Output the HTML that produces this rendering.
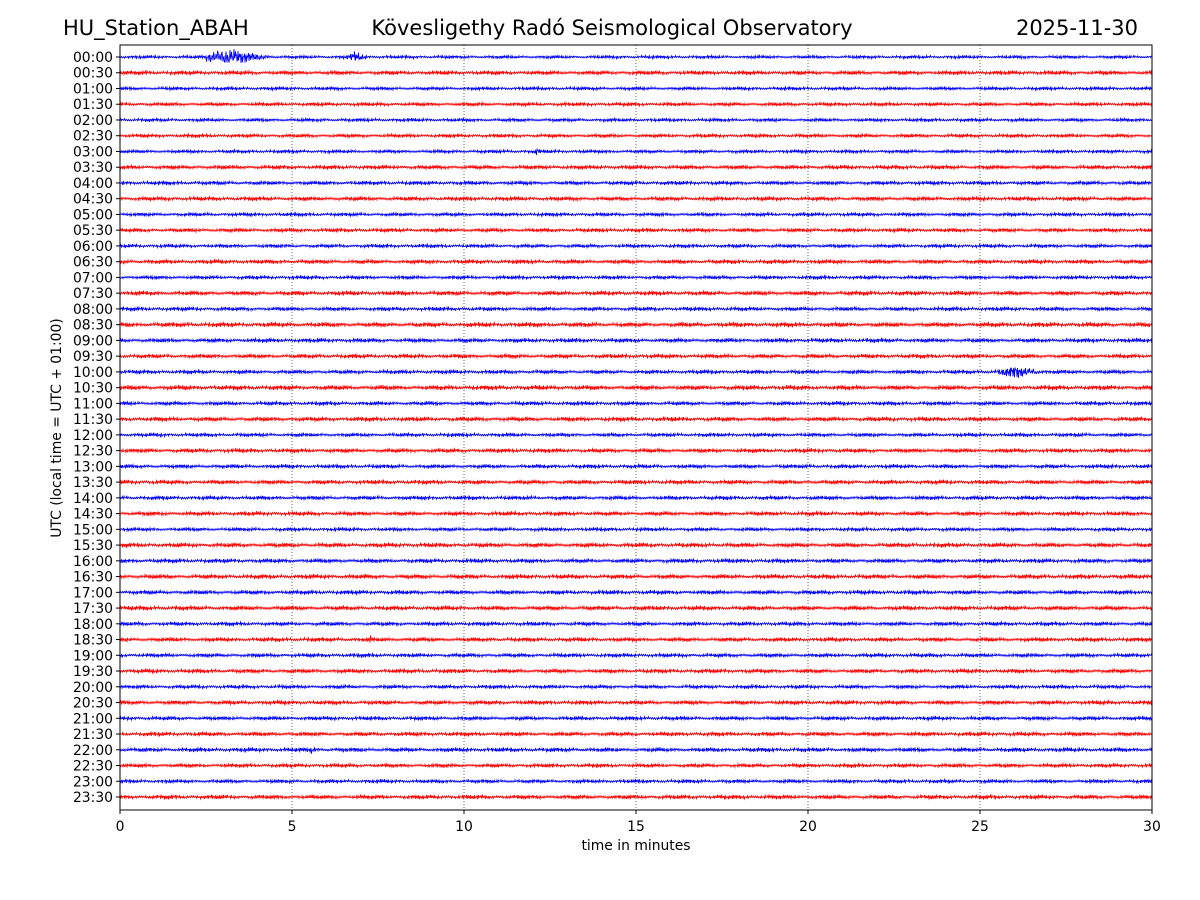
<!DOCTYPE html>
<html><head><meta charset="utf-8"><style>
body{margin:0;background:#fff;}
svg{display:block;font-family:"DejaVu Sans","Liberation Sans",sans-serif;}
</style></head><body>
<svg id="chart" width="1200" height="900" viewBox="0 0 1200 900">
<rect width="1200" height="900" fill="#fff"/>
<text x="63" y="35" font-size="21">HU_Station_ABAH</text>
<text x="612" y="35" font-size="21" text-anchor="middle">Kövesligethy Radó Seismological Observatory</text>
<text x="1138" y="35" font-size="21" text-anchor="end">2025-11-30</text>
<g id="grid"></g>
<g id="traces"></g>
<rect x="120" y="45" width="1032" height="765" fill="none" stroke="#000" stroke-width="1"/>
<g id="xticks"></g>
<g id="yticks"></g>
<text x="636" y="850" font-size="13.9" text-anchor="middle">time in minutes</text>
<text transform="translate(61,428) rotate(-90)" font-size="13.9" text-anchor="middle">UTC (local time = UTC + 01:00)</text>
</svg>
<script>
const rowLabels=[];for(let h=0;h<24;h++){const hh=String(h).padStart(2,'0');rowLabels.push(hh+':00');rowLabels.push(hh+':30');}
const xTicks=[0,5,10,15,20,25,30];
const noiseAmp=[1.2,1.6,1.3,1.4,1.3,1.4,1.3,1.6,1.5,1.6,1.4,1.5,1.4,1.6,1.4,1.7,1.5,1.8,1.6,1.6,1.5,1.8,1.5,1.7,1.4,1.6,1.5,1.6,1.5,1.6,1.4,1.7,1.6,1.7,1.6,1.7,1.5,1.6,1.5,1.6,1.4,1.6,1.5,1.6,1.6,1.5,1.4,1.6];
const eventRow=[0,0,6,20,44,37];
const eventMin=[2.5,6.6,12.0,25.5,5.4,7.2];
const eventAmp=[8,4,3,5,3,3];
const eventDur=[2.4,1.0,0.5,2.2,0.8,0.3];
const NS='http://www.w3.org/2000/svg';
const X0=120,X1=1152,Y0=45,Y1=810;
const xs=m=>X0+(m/30)*(X1-X0);
const ys=i=>57+i*(797-57)/47;
const grid=document.getElementById('grid'),xt=document.getElementById('xticks'),yt=document.getElementById('yticks'),tr=document.getElementById('traces');
xTicks.forEach(t=>{
 if(t>0&&t<30){const l=document.createElementNS(NS,'line');
 
 
 l.setAttribute('x1',xs(t));l.setAttribute('x2',xs(t));l.setAttribute('y1',Y0);l.setAttribute('y2',Y1);l.setAttribute('stroke','#000');l.setAttribute('stroke-width','0.6');l.setAttribute('stroke-dasharray','1,2');grid.appendChild(l);}
 const k=document.createElementNS(NS,'line');
 
 
 k.setAttribute('x1',xs(t));k.setAttribute('x2',xs(t));k.setAttribute('y1',Y1);k.setAttribute('y2',Y1+4);k.setAttribute('stroke','#000');xt.appendChild(k);
 const tx=document.createElementNS(NS,'text');
 
 
 tx.setAttribute('x',xs(t));tx.setAttribute('y',Y1+21);tx.setAttribute('font-size','13.9');tx.setAttribute('text-anchor','middle');tx.textContent=t;xt.appendChild(tx);
});
rowLabels.forEach((lab,i)=>{
 const y=ys(i);
 const k=document.createElementNS(NS,'line');
 
 
 k.setAttribute('x1',X0-4);k.setAttribute('x2',X0);k.setAttribute('y1',y);k.setAttribute('y2',y);k.setAttribute('stroke','#000');yt.appendChild(k);
 const tx=document.createElementNS(NS,'text');
 
 
 tx.setAttribute('x',X0-7);tx.setAttribute('y',y+5);tx.setAttribute('font-size','13.9');tx.setAttribute('text-anchor','end');tx.textContent=lab;yt.appendChild(tx);
 let pts=[];const a=noiseAmp[i];
 for(let px=0;px<=1032;px+=0.5){
  const m=px/1032*30;
  let s=Math.sin(px*3.13+i*7.1)*0.55+Math.sin(px*7.71+i*3.3)*0.45+Math.sin(px*17.3+i*1.7)*0.4+Math.sin(px*0.37+i)*0.2;
  let amp=a;
  for(let e=0;e<eventRow.length;e++){if(eventRow[e]===i){const d=(m-eventMin[e])/eventDur[e];if(d>0&&d<1){const env=d<0.25?(0.4+2.4*d):Math.exp(-(d-0.25)*3);amp=Math.max(amp,eventAmp[e]*env);}}}
  if(amp>a*1.5)s+=Math.sin(px*23.7)*0.3;
  pts.push((X0+px).toFixed(1)+','+(y+s*amp).toFixed(2));
 }
 const p=document.createElementNS(NS,'polyline');
 
 
 p.setAttribute('points',pts.join(' '));p.setAttribute('fill','none');p.setAttribute('stroke',i%2?'#ff0000':'#0000ff');p.setAttribute('stroke-width','0.85');
 tr.appendChild(p);
});
</script>
</body></html>
